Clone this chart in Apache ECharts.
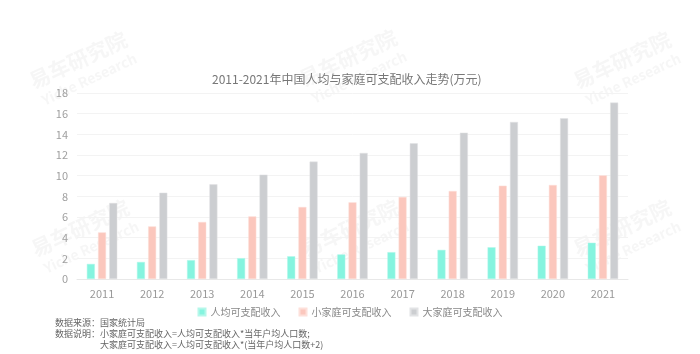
<!DOCTYPE html>
<html>
<head>
<meta charset="utf-8">
<script src="https://cdn.jsdelivr.net/npm/echarts@6/dist/echarts.min.js"></script>
<style>
  html, body { margin: 0; padding: 0; background: #fff; }
  #main { width: 700px; height: 354px; }
</style>
</head>
<body>
<div id="main"></div>
<script>
// 年份
var years = ['2011', '2012', '2013', '2014', '2015', '2016', '2017', '2018', '2019', '2020', '2021'];
// 人均可支配收入(万元)
var perCapita = [1.46, 1.65, 1.83, 2.02, 2.20, 2.38, 2.60, 2.82, 3.07, 3.22, 3.51];
// 小家庭可支配收入
var smallFamily = [4.51, 5.09, 5.52, 6.06, 6.97, 7.42, 7.94, 8.52, 9.03, 9.10, 10.03];
// 大家庭可支配收入
var bigFamily = [7.36, 8.35, 9.16, 10.10, 11.36, 12.20, 13.13, 14.16, 15.20, 15.55, 17.07];
var seriesNames = ['人均可支配收入', '小家庭可支配收入', '大家庭可支配收入'];

var FONT = '"Noto Sans CJK SC", "Noto Sans", sans-serif';

// 水印
function watermark(x, y) {
  return {
    type: 'group',
    x: x,
    y: y,
    rotation: 25 * Math.PI / 180,
    silent: true,
    z: 100,
    children: [
      {
        type: 'text',
        style: {
          text: '易车研究院',
          x: 0, y: 0,
          align: 'center', verticalAlign: 'middle',
          font: 'bold 21px ' + FONT,
          fill: 'rgba(170,170,170,0.1)'
        }
      },
      {
        type: 'text',
        style: {
          text: 'Yiche Research',
          x: 2, y: 22,
          align: 'center', verticalAlign: 'middle',
          font: 'bold 14px ' + FONT,
          fill: 'rgba(170,170,170,0.1)'
        }
      }
    ]
  };
}

var myChart = echarts.init(document.getElementById('main'));
var option = {
  backgroundColor: '#fff',
  title: {
    text: '2011-2021年中国人均与家庭可支配收入走势(万元)',
    left: 207,
    top: 68,
    textStyle: { color: '#777', fontSize: 12, fontWeight: 'normal', fontFamily: FONT }
  },
  legend: {
    left: 'center',
    top: 302,
    icon: 'rect',
    itemWidth: 7,
    itemHeight: 7,
    itemGap: 18,
    textStyle: { color: '#888', fontSize: 10, fontFamily: FONT },
    data: seriesNames
  },
  grid: { left: 77, right: 72, top: 93, bottom: 75 },
  xAxis: {
    type: 'category',
    data: years,
    axisLine: { lineStyle: { color: '#e8e8e8' } },
    axisTick: { show: false },
    axisLabel: { color: '#999', fontSize: 11, margin: 9, fontFamily: FONT }
  },
  yAxis: {
    type: 'value',
    min: 0,
    max: 18,
    interval: 2,
    axisLine: { show: false },
    axisTick: { show: false },
    splitLine: { lineStyle: { color: '#f3f3f3' } },
    axisLabel: { color: '#a0a0a0', fontSize: 11, margin: 9, fontFamily: FONT }
  },
  series: [
    {
      name: seriesNames[0], type: 'bar', data: perCapita,
      barWidth: 8, barGap: '40%',
      itemStyle: { color: '#85f4df', borderColor: '#b5f7ea', borderWidth: 0.5 }
    },
    {
      name: seriesNames[1], type: 'bar', data: smallFamily,
      barWidth: 8, barGap: '40%',
      itemStyle: { color: '#fbc7bd', borderColor: '#fde0da', borderWidth: 0.5 }
    },
    {
      name: seriesNames[2], type: 'bar', data: bigFamily,
      barWidth: 8, barGap: '40%',
      itemStyle: { color: '#ccced1', borderColor: '#e2e3e5', borderWidth: 0.5 }
    }
  ],
  graphic: [
    watermark(78, 60),
    watermark(348, 58),
    watermark(622, 60),
    watermark(80, 228),
    watermark(350, 228),
    watermark(622, 228),
    {
      type: 'text', left: 55, top: 318, silent: true,
      style: { text: '数据来源：国家统计局', font: '9px ' + FONT, fill: '#666' }
    },
    {
      type: 'text', left: 55, top: 329, silent: true,
      style: { text: '数据说明：小家庭可支配收入=人均可支配收入*当年户均人口数;', font: '9px ' + FONT, fill: '#666' }
    },
    {
      type: 'text', left: 100, top: 340, silent: true,
      style: { text: '大家庭可支配收入=人均可支配收入*(当年户均人口数+2)', font: '9px ' + FONT, fill: '#666' }
    }
  ]
};
option && myChart.setOption(option);
</script>
</body>
</html>
